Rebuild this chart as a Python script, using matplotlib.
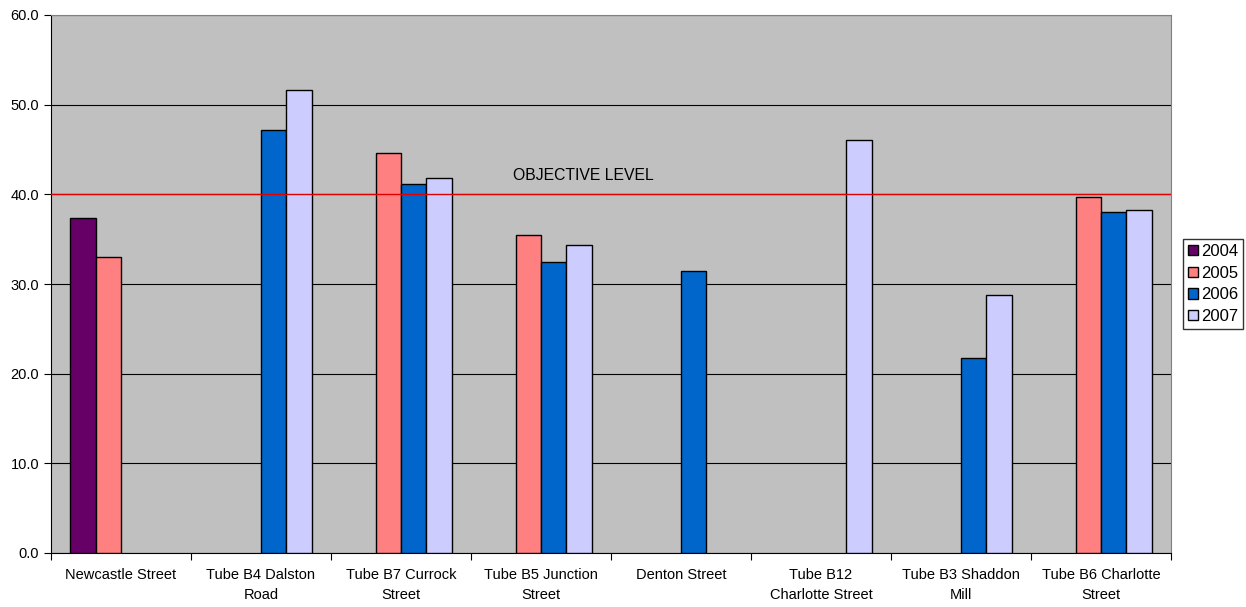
"""NO2 diffusion tube annual means by site, 2004-2007, against the objective level."""
import numpy as np
import matplotlib.pyplot as plt
from matplotlib.ticker import FixedLocator, FormatStrFormatter

sites = [
    "Newcastle Street",
    "Tube B4 Dalston\nRoad",
    "Tube B7 Currock\nStreet",
    "Tube B5 Junction\nStreet",
    "Denton Street",
    "Tube B12\nCharlotte Street",
    "Tube B3 Shaddon\nMill",
    "Tube B6 Charlotte\nStreet",
]
years = ["2004", "2005", "2006", "2007"]
nan = np.nan
y2004 = [37.4, nan, nan, nan, nan, nan, nan, nan]
y2005 = [33.0, nan, 44.6, 35.5, nan, nan, nan, 39.7]
y2006 = [nan, 47.2, 41.1, 32.5, 31.5, nan, 21.7, 38.0]
y2007 = [nan, 51.6, 41.8, 34.3, nan, 46.1, 28.8, 38.3]
objective = 40.0

colours = ["#660066", "#FF8080", "#0066CC", "#CCCCFF"]

plt.rcParams["font.family"] = ["Liberation Sans", "DejaVu Sans"]
plt.rcParams["font.size"] = 10

fig = plt.figure(figsize=(12.46, 6.07), dpi=100)
ax = fig.add_axes([51 / 1246, 1 - 553 / 607, 1120 / 1246, 538 / 607])
ax.set_facecolor("#C0C0C0")

x = np.arange(len(sites))
width = 1 / 5.5
series = [y2004, y2005, y2006, y2007]
for i, (vals, yr, col) in enumerate(zip(series, years, colours)):
    ax.bar(x + (i - 1.5) * width, vals, width, color=col, edgecolor="black",
           linewidth=1.0, label=yr, zorder=3)

ax.set_xlim(-0.5, len(sites) - 0.5)
ax.set_ylim(0, 60)
ax.yaxis.set_major_locator(FixedLocator(np.arange(0, 61, 10)))
ax.yaxis.set_major_formatter(FormatStrFormatter("%.1f"))
ax.grid(axis="y", color="black", linewidth=0.8, zorder=1)

# category boundaries get the ticks, the names sit between them
ax.set_xticks(np.arange(-0.5, len(sites), 1.0))
ax.set_xticklabels([])
ax.set_xticks(x, minor=True)
ax.set_xticklabels(sites, minor=True, linespacing=1.5, fontsize=10.5)
ax.tick_params(axis="x", which="minor", length=0, pad=11)
ax.tick_params(axis="x", which="major", length=5, direction="out")
ax.tick_params(axis="y", length=5, direction="out", labelsize=10.5)

ax.axhline(objective, color="#E00000", linewidth=1.0, zorder=4)
ax.text(2.80, objective + 1.3, "OBJECTIVE LEVEL", fontsize=11.3, va="bottom",
        ha="left", zorder=5)

for side in ("top", "right"):
    ax.spines[side].set_color("#808080")
for side in ("left", "bottom"):
    ax.spines[side].set_color("black")

fig.legend(loc="center left", bbox_to_anchor=(1183 / 1246, 1 - 284 / 607),
           frameon=True, fancybox=False, edgecolor="black", fontsize=12,
           handlelength=0.6, handleheight=0.6, handletextpad=0.2,
           borderpad=0.3, labelspacing=0.4, borderaxespad=0)

fig.savefig("out.png", dpi=100)
